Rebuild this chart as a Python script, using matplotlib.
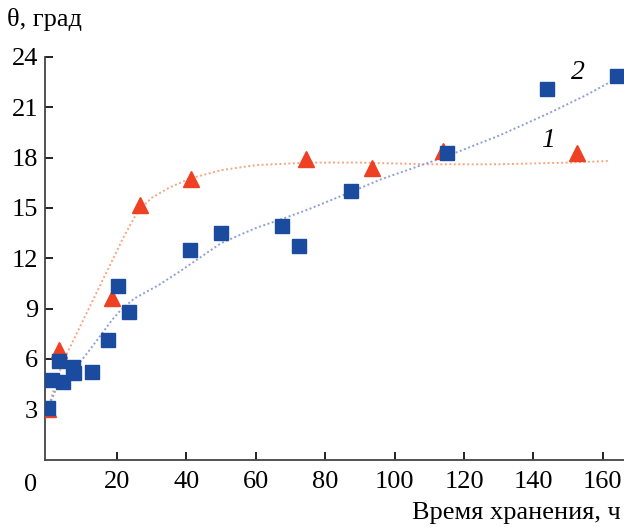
import matplotlib
matplotlib.use("Agg")
import matplotlib.pyplot as plt

plt.rcParams['font.family'] = ['Liberation Serif', 'DejaVu Serif']

# series 1 (triangles)
t1 = [0, 3.4, 18.5, 26.5, 41.3, 74.5, 93.5, 114, 152.7]
y1 = [3.0, 6.55, 9.6, 15.15, 16.7, 17.9, 17.4, 18.4, 18.25]

# series 2 (squares)
t2 = [0.2, 1.2, 4.3, 3.4, 7.3, 7.6, 12.8, 17.3, 20.4, 23.5, 41.1, 50.0,
      67.5, 72.5, 87.5, 115.1, 143.9, 164.2]
y2 = [3.05, 4.75, 4.6, 5.85, 5.5, 5.15, 5.2, 7.1, 10.35, 8.8, 12.5, 13.5,
      13.95, 12.75, 16.0, 18.3, 22.1, 22.85]

# trend curves
c1_t = [0, 2, 4, 6, 10, 14, 18, 22, 26, 30, 35, 41, 50, 60, 75, 90,
        110, 130, 150, 162]
c1_y = [3.0, 4.3, 5.6, 6.5, 8.2, 9.9, 11.6, 13.3, 14.8, 15.6, 16.2,
        16.75, 17.25, 17.55, 17.7, 17.7, 17.6, 17.6, 17.7, 17.8]
c2_t = [0, 2, 5, 9, 12, 16, 18.5, 21, 25, 32, 38, 50, 60, 67, 75, 88, 96,
        114, 130, 144, 155, 163]
c2_y = [3.0, 4.0, 4.9, 5.7, 6.5, 7.6, 8.3, 8.9, 9.6, 10.4, 11.2, 12.9,
        13.8, 14.3, 14.9, 16.0, 16.7, 18.0, 19.3, 20.6, 21.7, 22.6]

xticks = [20, 40, 60, 80, 100, 120, 140, 160]
yticks = [3, 6, 9, 12, 15, 18, 21, 24]

red = '#EE4023'
blue = '#1A4B9E'

fig = plt.figure(figsize=(6.24, 5.27), dpi=100)
ax = fig.add_axes([0.0724, 0.128, 0.927, 0.764])

ax.plot(c1_t, c1_y, ls=(0, (1, 1.3)), lw=1.4, color='#F8A57E', zorder=1)
ax.plot(c2_t, c2_y, ls=(0, (1, 1.3)), lw=1.4, color='#8E9ED8', zorder=1)
ax.plot(t1, y1, ls='none', marker='^', ms=11, color=red, zorder=3)
ax.plot(t2, y2, ls='none', marker='s', ms=9.4, color=blue, zorder=4)

ax.set_xlim(-0.7, 166)
ax.set_ylim(0, 24)
ax.set_xticks(xticks)
ax.set_yticks(yticks)
ax.tick_params(direction='in', length=6, width=1.4, labelsize=19,
               color='#222222')
ax.tick_params(axis='x', pad=8)
ax.tick_params(axis='y', pad=5)
for s in ['top', 'right']:
    ax.spines[s].set_visible(False)
for s in ['left', 'bottom']:
    ax.spines[s].set_linewidth(1.3)
    ax.spines[s].set_color('#444444')

ax.text(-0.026, -0.035, '0', transform=ax.transAxes, ha='center', va='top',
        fontsize=19)
fig.text(0.012, 0.963, 'θ, град', fontsize=19, ha='left', va='center')
fig.text(0.995, 0.026, 'Время хранения, ч', fontsize=19, ha='right',
         va='center')

ax.text(144.2, 19.0, '1', fontsize=20, style='italic', ha='center',
        va='center')
ax.text(152.9, 23.1, '2', fontsize=20, style='italic', ha='center',
        va='center')

fig.savefig('out.png', dpi=100)
